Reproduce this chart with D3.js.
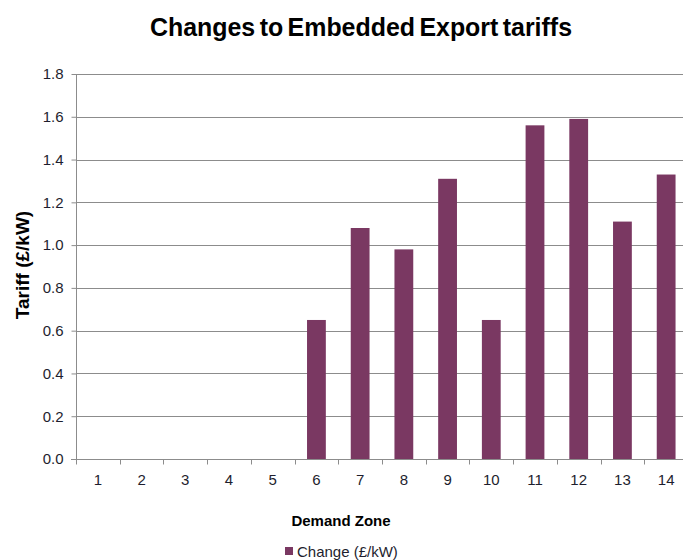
<!DOCTYPE html>
<html><head><meta charset="utf-8">
<script src="https://cdn.jsdelivr.net/npm/d3@7"></script>
<style>body{margin:0;background:#fff;} svg{display:block;font-family:"Liberation Sans",Arial,sans-serif;}</style>
</head><body>
<script>
const zones = ["1","2","3","4","5","6","7","8","9","10","11","12","13","14"];
const changeValues = [0,0,0,0,0,0.65,1.08,0.98,1.31,0.65,1.56,1.59,1.11,1.33];
const yTicks = [0,0.2,0.4,0.6,0.8,1.0,1.2,1.4,1.6,1.8];
const chartTitle = "Changes to Embedded Export tariffs";
const seriesName = "Change (£/kW)";

const W=683,H=560;
const mLeft=76, mRight=688, mTop=74, mBottom=459;
const svg=d3.select("body").append("svg").attr("width",W).attr("height",H);

const x=d3.scaleBand().domain(zones).range([mLeft,mRight]).paddingInner(0).paddingOuter(0);
const y=d3.scaleLinear().domain([0,1.8]).range([mBottom,mTop]);

// gridlines
svg.append("g").selectAll("line").data(yTicks.slice(1)).join("line")
  .attr("x1",mLeft).attr("x2",mRight).attr("y1",d=>Math.round(y(d))+0.5).attr("y2",d=>Math.round(y(d))+0.5)
  .attr("stroke","#8c8c8c").attr("stroke-width",1);

// bars
const bw = x.bandwidth()*0.43;
svg.append("g").selectAll("rect").data(changeValues.map((v,i)=>({z:zones[i],v})).filter(d=>d.v>0)).join("rect")
  .attr("x",d=>x(d.z)+x.bandwidth()/2-bw/2).attr("width",bw)
  .attr("y",d=>y(d.v)).attr("height",d=>y(0)-y(d.v))
  .attr("fill","#7a3862");

// y axis
const yAxis=d3.axisLeft(y).tickValues(yTicks).tickFormat(d3.format(".1f")).tickSize(5).tickPadding(8);
const gy=svg.append("g").attr("transform",`translate(${mLeft+0.5},0)`).call(yAxis);
gy.select(".domain").attr("stroke","#8c8c8c").attr("d",`M0,${mTop}V${mBottom}`);
gy.selectAll(".tick line").attr("stroke","#8c8c8c");
gy.selectAll(".tick text").attr("font-size",15).attr("fill","#1e1e2e").attr("font-family","Liberation Sans, Arial, sans-serif");

// x axis
const gx=svg.append("g").attr("transform",`translate(0,${mBottom+0.5})`);
gx.append("line").attr("x1",mLeft-5).attr("x2",mRight).attr("stroke","#8c8c8c");
gx.selectAll("line.t").data(d3.range(zones.length+1)).join("line").attr("class","t")
  .attr("x1",i=>Math.round(mLeft+i*x.step())+0.5).attr("x2",i=>Math.round(mLeft+i*x.step())+0.5)
  .attr("y1",0).attr("y2",5).attr("stroke","#8c8c8c");
gx.selectAll("text").data(zones).join("text")
  .attr("x",d=>x(d)+x.bandwidth()/2).attr("y",25).attr("text-anchor","middle")
  .attr("font-size",15).attr("fill","#1e1e2e").text(d=>d);

// title
svg.append("text").attr("x",361).attr("y",36).attr("text-anchor","middle")
  .attr("font-size",25).attr("font-weight","bold").attr("fill","#000")
  .attr("textLength",422).attr("lengthAdjust","spacingAndGlyphs").attr("word-spacing",-2.5).text(chartTitle);
// y label
svg.append("text").attr("transform","translate(29,265) rotate(-90)").attr("text-anchor","middle")
  .attr("font-size",19).attr("font-weight","bold").attr("fill","#000").text("Tariff (£/kW)");
// x label
svg.append("text").attr("x",341).attr("y",526).attr("text-anchor","middle")
  .attr("font-size",15).attr("font-weight","bold").attr("fill","#000").text("Demand Zone");
// legend
svg.append("rect").attr("x",285).attr("y",547).attr("width",8).attr("height",8).attr("fill","#7a3862");
svg.append("text").attr("x",297).attr("y",557).attr("font-size",15).attr("fill","#1e1e2e").text(seriesName);
</script>
</body></html>
